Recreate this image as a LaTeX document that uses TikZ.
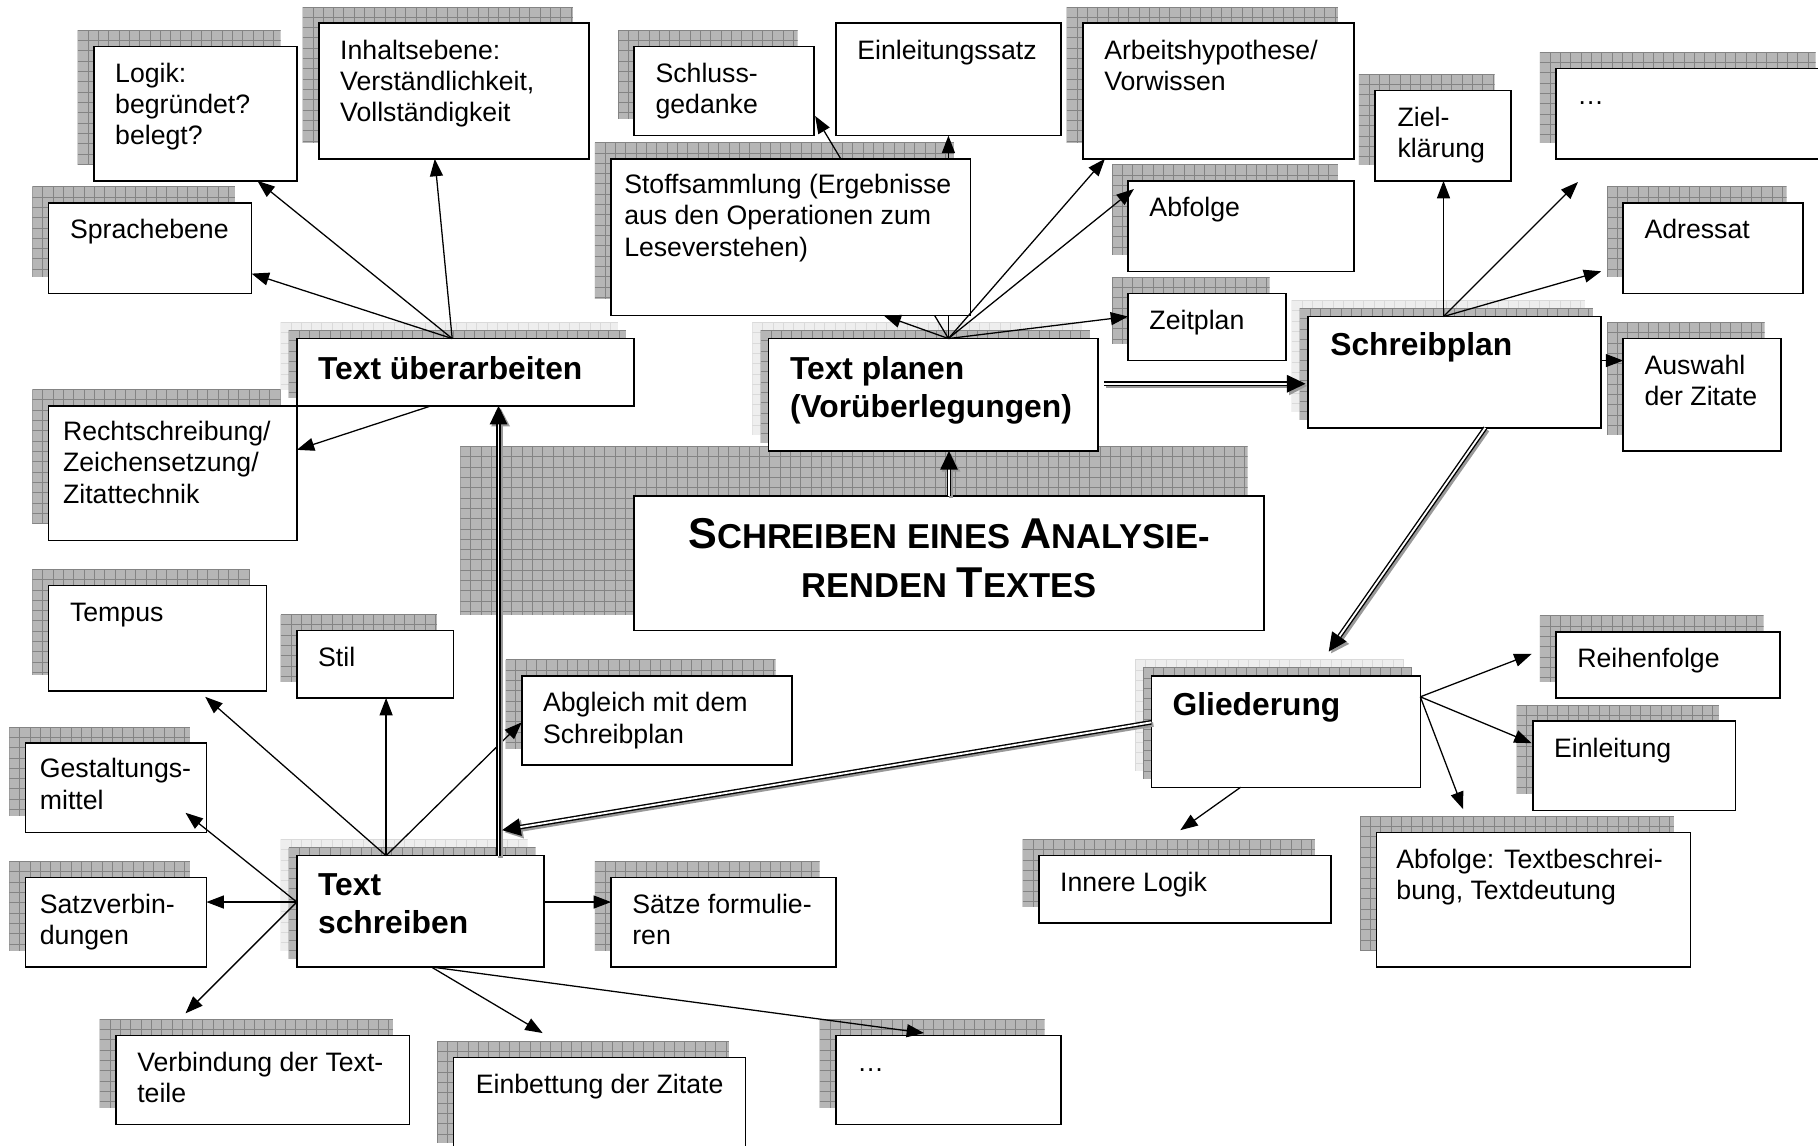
\documentclass[tikz,border=0pt]{standalone}
\usepackage{fontspec}
\setmainfont{Liberation Sans}
\usetikzlibrary{calc,arrows.meta}
\pgfdeclarelayer{shadow}
\pgfdeclarelayer{arrows}
\pgfdeclarelayer{top}
\pgfsetlayers{shadow,arrows,main,top}
\definecolor{shfill}{RGB}{182,182,182}
\definecolor{shgrid}{RGB}{132,132,132}
\definecolor{ltfillc}{RGB}{238,238,238}
\definecolor{ltgridc}{RGB}{218,218,218}
\tikzset{
  boxst/.style={draw=black, fill=white, line width=0.65pt, inner sep=0pt, outer sep=0pt},
  txt/.style={inner sep=0pt, font=\fontsize{11.5}{13.5}\selectfont},
  htxt/.style={inner sep=0pt, font=\bfseries\fontsize{13.7}{16.5}\selectfont},
  shdstdf/.style={fill=shfill},
  shdstdg/.style={draw=shgrid, line width=0.35pt},
  shdltf/.style={fill=ltfillc},
  shdltg/.style={draw=ltgridc, line width=0.35pt},
  arr/.style={line width=0.55pt, -{Triangle[length=7.5pt,width=5.6pt]}},
  dbl/.style={line width=0.6pt, double=white, double distance=0.8pt, -{Triangle[length=8pt,width=7.5pt]}},
  dblsh/.style={draw=black!40, line width=2pt, -{Triangle[length=8pt,width=7.5pt]}, transform canvas={shift={(0.9pt,-0.9pt)}}}
}
\newcommand\shadowrect[5]{%
  \begin{scope}
    \pgfmathsetmacro\sxa{#2}\pgfmathsetmacro\sya{#3}%
    \pgfmathsetmacro\sxb{#4}\pgfmathsetmacro\syb{#5}%
    \pgfmathsetmacro\sxn{\sxa+8.9}\pgfmathsetmacro\syn{\sya+8.9}%
    \clip (\sxa,\sya) rectangle (\sxb,\syb);
    \fill[shd#1f] (\sxa,\sya) rectangle (\sxb,\syb);
    \foreach \gx in {\sxa,\sxn,...,\sxb} {\draw[shd#1g] (\gx,\sya) -- (\gx,\syb);}
    \foreach \gy in {\sya,\syn,...,\syb} {\draw[shd#1g] (\sxa,\gy) -- (\sxb,\gy);}
  \end{scope}}
\newcommand\corebx[8]{%
  \node[boxst, anchor=north west, minimum width={(#5-#3)*0.5pt}, minimum height={(#6-#4)*0.5pt}] (#2) at (#3,#4) {};
  \node[#7, anchor=base west] (#2t) at ($(#2.north west)+(#1)$) {\begin{tabular}[t]{@{}l@{}}#8\end{tabular}};}
\newcommand\sbx[7][18,31]{%
  \begin{pgfonlayer}{shadow}\shadowrect{std}{#3-14}{#4-14}{#5-14}{#6-14}\end{pgfonlayer}
  \corebx{#1}{#2}{#3}{#4}{#5}{#6}{txt}{#7}}
\newcommand\hbx[7][18,35]{%
  \begin{pgfonlayer}{shadow}\shadowrect{lt}{#3-14}{#4-14}{#5-14}{#6-14}\shadowrect{std}{#3-7}{#4-7}{#5-7}{#6-7}\end{pgfonlayer}
  \corebx{#1}{#2}{#3}{#4}{#5}{#6}{htxt}{#7}}
\newcommand\nbx[7][18,31]{\corebx{#1}{#2}{#3}{#4}{#5}{#6}{txt}{#7}}
\newcommand\BC[1]{{\fontsize{18.6}{22}\selectfont #1}}
\newcommand\SC[1]{{\fontsize{14.9}{18}\selectfont #1}}
\newcommand\dblarrow[2]{\draw[dblsh] #1 -- #2; \draw[dbl] #1 -- #2;}
\begin{document}
\begin{tikzpicture}[x=0.5pt,y=-0.5pt]
\useasboundingbox (0,0) rectangle (1568,988);
% ---------- boxes ----------
\sbx{lg}{81}{40}{256}{156}{Logik:\\begründet?\\belegt?}
\sbx{ih}{275}{20}{508}{137}{Inhaltsebene:\\Verständlichkeit,\\Vollständigkeit}
\sbx{sp}{42}{175}{217}{253}{Sprachebene}
\hbx{tu}{256}{292}{547}{350}{Text überarbeiten}
\sbx[12,30]{rs}{42}{350}{256}{466}{Rechtschreibung/\\Zeichensetzung/\\Zitattechnik}
\sbx{sg}{547}{40}{702}{117}{Schluss-\\gedanke}
\nbx{es}{721}{20}{915}{117}{Einleitungssatz}
\sbx[11,30]{sf}{527}{137}{837}{272}{Stoffsammlung (Ergebnisse\\aus den Operationen zum\\Leseverstehen)}
\sbx{ah}{934}{20}{1168}{137}{Arbeitshypothese/\\Vorwissen}
\sbx{af}{973}{156}{1168}{234}{Abfolge}
\sbx{zp}{973}{253}{1109}{311}{Zeitplan}
\hbx{tp}{663}{292}{947}{389}{Text planen\\(Vorüberlegungen)}
\sbx[19,31]{zk}{1186}{78}{1303}{156}{Ziel-\\klärung}
\sbx{d1}{1342}{59}{1580}{137}{…}
\sbx{ad}{1400}{175}{1555}{253}{Adressat}
\hbx[19,34]{spl}{1128}{273}{1381}{369}{Schreibplan}
\sbx{az}{1400}{292}{1536}{389}{Auswahl\\der Zitate}
\sbx{te}{42}{505}{230}{596}{Tempus}
\sbx{st}{256}{544}{391}{602}{Stil}
\sbx{ag}{450}{583}{683}{660}{Abgleich mit dem\\Schreibplan}
\sbx[12,30]{gm}{22}{641}{178}{718}{Gestaltungs-\\mittel}
\sbx[12,31]{sv}{22}{757}{178}{834}{Satzverbin-\\dungen}
\hbx[18,34]{ts}{256}{738}{469}{834}{Text\\schreiben}
\sbx{sa}{527}{757}{721}{834}{Sätze formulie-\\ren}
\sbx{vb}{100}{893}{353}{970}{Verbindung der Text-\\teile}
\sbx[19,31]{eb}{391}{912}{643}{1000}{Einbettung der Zitate}
\sbx{d2}{721}{893}{915}{970}{…}
\hbx[18,34]{gl}{993}{583}{1225}{679}{Gliederung}
\sbx{il}{896}{738}{1148}{796}{Innere Logik}
\sbx{rf}{1342}{545}{1535}{602}{Reihenfolge}
\sbx{ei}{1322}{622}{1497}{699}{Einleitung}
\sbx[17,31]{at}{1187}{718}{1458}{834}{Abfolge: Textbeschrei-\\bung, Textdeutung}
% title
\begin{pgfonlayer}{shadow}\shadowrect{std}{397}{385}{1076}{530}\end{pgfonlayer}
\node[boxst, anchor=north west, minimum width=271.5pt, minimum height=58pt] (ti) at (547,428) {};
\node[inner sep=0pt, anchor=base, font=\bfseries] (tit1) at ($(ti.north)+(0,45)$) {\BC{S}\SC{CHREIBEN EINES }\BC{A}\SC{NALYSIE-}};
\node[inner sep=0pt, anchor=base, font=\bfseries] (tit2) at ($(ti.north)+(0,87)$) {\SC{RENDEN }\BC{T}\SC{EXTES}};
% ---------- connectors hidden by the Stoffsammlung box ----------
\begin{pgfonlayer}{arrows}
\coordinate (o2) at ($(tp.north west)+(155,0)$);
\draw[arr] (o2) -- ($(sg.north east)+(1,60)$);
\draw[arr] (o2) -- ($(es.south west)+(97,0)$);
\end{pgfonlayer}
% ---------- connectors on top ----------
\begin{pgfonlayer}{top}
\coordinate (o1) at ($(tu.north west)+(134,0)$);
\draw[arr] (o1) -- ($(lg.south west)+(141,0)$);
\draw[arr] (o1) -- ($(ih.south west)+(100,0)$);
\draw[arr] (o1) -- ($(sp.north east)+(0,61)$);
\draw[arr] ($(tu.south west)+(116,0)$) -- ($(rs.north east)+(0,38)$);
\draw[arr] (o2) -- ($(sf.south west)+(235,0)$);
\draw[arr] (o2) -- ($(ah.south west)+(19,0)$);
\draw[arr] (o2) -- ($(af.north west)+(5,7)$);
\draw[arr] (o2) -- ($(zp.north west)+(0,20)$);
\coordinate (o3) at ($(spl.north west)+(117,0)$);
\draw[arr] (o3) -- ($(zk.south west)+(59,0)$);
\coordinate (fr) at ($(d1.south west)+(19,20)$);
\draw[arr] (o3) -- (fr);
\draw[arr] (o3) -- ($(ad.south west)+(-19,-19)$);
\draw[arr] ($(spl.north east)+(0,38)$) -- ($(az.north west)+(0,19)$);
\coordinate (o4) at ($(gl.north east)+(0,18)$);
\draw[arr] (o4) -- ($(rf.north west)+(-21,19)$);
\draw[arr] (o4) -- ($(ei.north west)+(-1,19)$);
\draw[arr] (o4) -- ($(at.north west)+(75,-20)$);
\draw[arr] ($(gl.south west)+(77,0)$) -- ($(il.north west)+(122,-22)$);
\coordinate (o5) at ($(ts.north west)+(77,0)$);
\draw[arr] (o5) -- ($(te.south west)+(135,5)$);
\draw[arr] (o5) -- ($(st.south west)+(77,0)$);
\draw[arr] (o5) -- ($(ag.north west)+(0,40)$);
\coordinate (o6) at ($(ts.north west)+(0,40)$);
\draw[arr] (o6) -- ($(gm.south east)+(-18,-17)$);
\draw[arr] (o6) -- ($(sv.north east)+(0,21)$);
\draw[arr] (o6) -- ($(vb.north west)+(60,-19)$);
\draw[arr] ($(ts.north east)+(0,40)$) -- ($(sa.north west)+(0,21)$);
\coordinate (o8) at ($(ts.south west)+(116,0)$);
\draw[arr] (o8) -- ($(eb.north west)+(77,-21)$);
\draw[arr] (o8) -- ($(d2.north west)+(76,-2)$);
% double connectors
\coordinate (gt) at ($(ts.north west)+(177,-22)$);
\dblarrow{($(ts.north west)+(174,0)$)}{($(tu.south west)+(174,0)$)}
\dblarrow{($(gl.north west)+(0,40)$)}{(gt)}
\dblarrow{($(spl.south west)+(153,0)$)}{($(gl.north west)+(153,-21)$)}
\dblarrow{($(tp.north east)+(5,39)$)}{($(spl.north west)+(-2,58)$)}
\dblarrow{(ti.north)}{(ti.north |- tp.south)}
\end{pgfonlayer}
\end{tikzpicture}
\end{document}
